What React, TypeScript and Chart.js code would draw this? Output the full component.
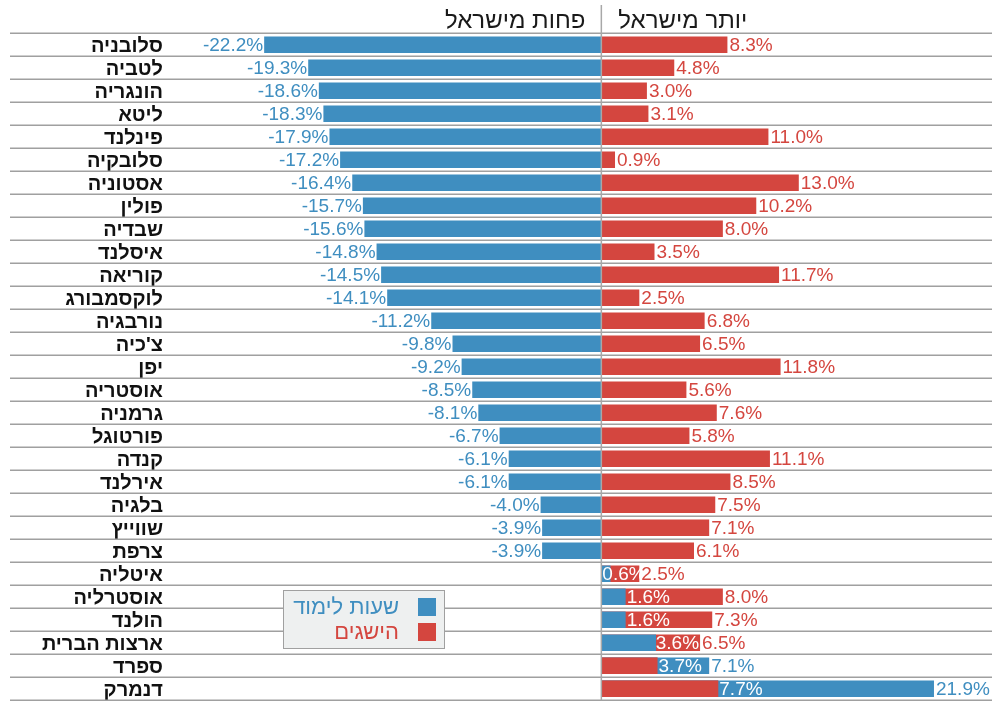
import React, { useEffect, useRef } from 'react';
import { Chart, registerables } from 'chart.js';

Chart.register(...registerables);

// ---- data ----
const countries = [
  'סלובניה', 'לטביה', 'הונגריה', 'ליטא', 'פינלנד', 'סלובקיה', 'אסטוניה', 'פולין',
  'שבדיה', 'איסלנד', 'קוריאה', 'לוקסמבורג', 'נורבגיה', "צ'כיה", 'יפן', 'אוסטריה',
  'גרמניה', 'פורטוגל', 'קנדה', 'אירלנד', 'בלגיה', 'שווייץ', 'צרפת', 'איטליה',
  'אוסטרליה', 'הולנד', 'ארצות הברית', 'ספרד', 'דנמרק',
];
const studyHours = [
  -22.2, -19.3, -18.6, -18.3, -17.9, -17.2, -16.4, -15.7, -15.6, -14.8, -14.5, -14.1,
  -11.2, -9.8, -9.2, -8.5, -8.1, -6.7, -6.1, -6.1, -4.0, -3.9, -3.9, 0.6, 1.6, 1.6,
  3.6, 7.1, 21.9,
];
const achievements = [
  8.3, 4.8, 3.0, 3.1, 11.0, 0.9, 13.0, 10.2, 8.0, 3.5, 11.7, 2.5, 6.8, 6.5, 11.8, 5.6,
  7.6, 5.8, 11.1, 8.5, 7.5, 7.1, 6.1, 2.5, 8.0, 7.3, 6.5, 3.7, 7.7,
];
const seriesNames = ['שעות לימוד', 'הישגים'];
const headerLess = 'פחות מישראל';
const headerMore = 'יותר מישראל';

const BLUE = '#3f8ec0';
const RED = '#d4463f';
const FONT = "'Liberation Sans', Arial, sans-serif";
const fmt = (v: number) => v.toFixed(1) + '%';

const decor = {
  id: 'decor',
  beforeDatasetsDraw(chart: any) {
    const { ctx } = chart;
    const ys = chart.scales.y;
    ctx.save();
    ctx.strokeStyle = '#a0a0a0';
    ctx.lineWidth = 1.5;
    for (let i = 0; i <= countries.length; i++) {
      const py = ys.getPixelForValue(i - 0.5);
      ctx.beginPath();
      ctx.moveTo(10, py);
      ctx.lineTo(chart.width, py);
      ctx.stroke();
    }
    ctx.restore();
  },
  afterDatasetsDraw(chart: any) {
    const { ctx, chartArea } = chart;
    const ds = chart.data.datasets;
    const metas = [chart.getDatasetMeta(0), chart.getDatasetMeta(1)];
    // smaller red bars on top where both bars overlap
    for (let i = 0; i < countries.length; i++) {
      const a = ds[0].data[i];
      const b = ds[1].data[i];
      if (a * b > 0 && Math.abs(b) < Math.abs(a)) metas[1].data[i].draw(ctx);
    }
    ctx.save();
    // zero line
    const x0 = chart.scales.x.getPixelForValue(0);
    ctx.strokeStyle = '#a8a8a8';
    ctx.lineWidth = 1.5;
    ctx.beginPath();
    ctx.moveTo(x0, 5);
    ctx.lineTo(x0, chartArea.bottom);
    ctx.stroke();

    // headers
    ctx.fillStyle = '#1a1a1a';
    ctx.font = `24px ${FONT}`;
    ctx.textBaseline = 'alphabetic';
    ctx.textAlign = 'right';
    ctx.fillText(headerLess, x0 - 16, 28);
    ctx.textAlign = 'left';
    ctx.fillText(headerMore, x0 + 17, 28);

    // value labels
    ctx.font = `19px ${FONT}`;
    ctx.textBaseline = 'middle';
    const colors = [BLUE, RED];
    for (let di = 0; di < 2; di++) {
      const oi = 1 - di;
      for (let i = 0; i < countries.length; i++) {
        const v = ds[di].data[i];
        const o = ds[oi].data[i];
        const el = metas[di].data[i];
        const end = el.x;
        const otherEnd = metas[oi].data[i].x;
        const smaller = v * o > 0 && Math.abs(v) < Math.abs(o);
        const txt = fmt(v);
        const w = ctx.measureText(txt).width;
        if (v >= 0) {
          ctx.textAlign = 'left';
          let x = end + 2;
          if (smaller) {
            x = Math.max(x0 + 1, Math.min(end + 1, otherEnd - w - 1));
            ctx.fillStyle = '#ffffff';
          } else ctx.fillStyle = colors[di];
          ctx.fillText(txt, x, el.y + 1);
        } else {
          ctx.textAlign = 'right';
          let x = end - 1;
          if (smaller) {
            x = Math.min(x0 - 1, Math.max(end - 1, otherEnd + w + 1));
            ctx.fillStyle = '#ffffff';
          } else ctx.fillStyle = colors[di];
          ctx.fillText(txt, x, el.y + 1);
        }
      }
    }

    // legend
    ctx.fillStyle = '#eef0f0';
    ctx.fillRect(283, 590, 161, 58);
    ctx.strokeStyle = '#a0a0a0';
    ctx.lineWidth = 1;
    ctx.strokeRect(283.5, 590.5, 161, 58);
    ctx.font = `22px ${FONT}`;
    ctx.textAlign = 'right';
    ctx.textBaseline = 'middle';
    const ly = [607, 632];
    for (let k = 0; k < 2; k++) {
      ctx.fillStyle = colors[k];
      ctx.fillRect(418, ly[k] - 9, 18, 18);
      ctx.fillText(seriesNames[k], 399, ly[k] + 1);
    }
    ctx.restore();
  },
};

export default function App() {
  const ref = useRef<HTMLCanvasElement>(null);
  useEffect(() => {
    if (!ref.current) return;
    const chart = new Chart(ref.current, {
      type: 'bar',
      data: {
        labels: countries,
        datasets: [
          { label: seriesNames[0], data: studyHours, backgroundColor: BLUE },
          { label: seriesNames[1], data: achievements, backgroundColor: RED },
        ],
      },
      options: {
        indexAxis: 'y',
        responsive: false,
        animation: false,
        devicePixelRatio: 1,
        layout: { padding: { top: 33.3, left: 0, right: 0, bottom: 0.7 } },
        datasets: {
          bar: { grouped: false, categoryPercentage: 0.72, barPercentage: 1, borderWidth: 0 },
        },
        plugins: { legend: { display: false }, tooltip: { enabled: false }, title: { display: false } },
        scales: {
          x: { display: false, min: -28.07, max: 25.72 },
          y: {
            afterFit: (s: any) => {
              s.width = 175;
              s.paddingTop = 0;
              s.paddingBottom = 0;
            },
            grid: { display: false, drawTicks: false },
            border: { display: false },
            ticks: {
              autoSkip: false,
              padding: 12,
              labelOffset: 2,
              color: '#111111',
              font: { family: FONT, size: 20, weight: 'bold' },
            },
          },
        },
      },
      plugins: [decor],
    });
    return () => chart.destroy();
  }, []);
  return (
    <div style={{ position: 'fixed', left: 0, top: 0, width: 992, height: 701, background: '#fff' }}>
      <canvas ref={ref} width={992} height={701} style={{ width: 992, height: 701, display: 'block' }} />
    </div>
  );
}
